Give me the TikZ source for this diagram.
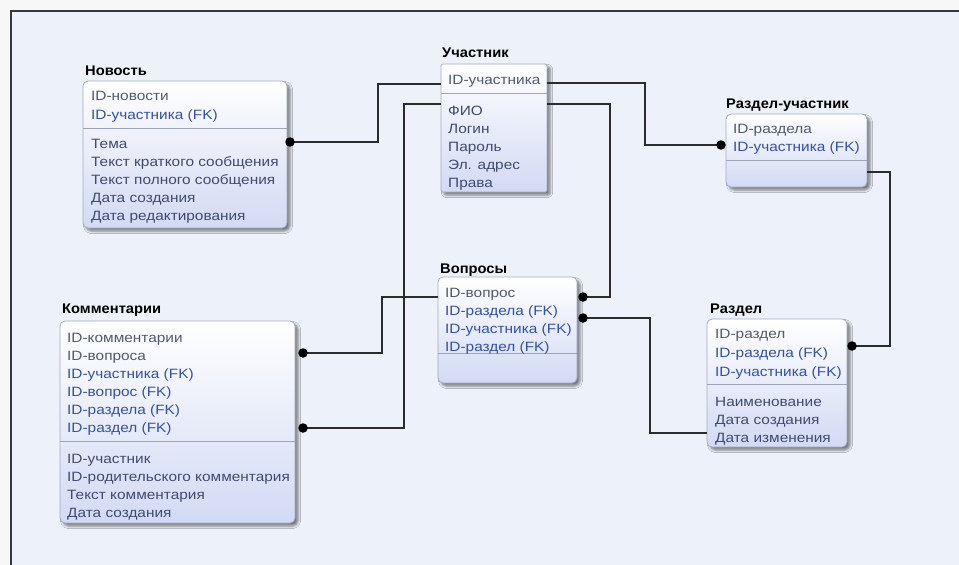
\documentclass[tikz,border=0pt]{standalone}
\usepackage{fontspec}
\setmainfont{Liberation Sans}
\newfontfamily\rowfont[FakeStretch=1.14]{Liberation Sans}
\newfontfamily\headfont[FakeStretch=1.05]{Liberation Sans}
\usetikzlibrary{shadows.blur}

\definecolor{outercol}{HTML}{F7F7F7}
\definecolor{panelcol}{HTML}{EDF2FA}
\definecolor{framecol}{HTML}{383838}
\definecolor{boxedge}{HTML}{A3ABBC}
\definecolor{boxlow}{HTML}{D2DAF4}
\definecolor{sepcol}{HTML}{9DA5B6}
\definecolor{keytxt}{HTML}{525A72}
\definecolor{fktxt}{HTML}{3152A8}
\definecolor{attrtxt}{HTML}{3F4B70}
\definecolor{linkcol}{HTML}{2C2C2C}

\tikzset{
  entity/.style={draw=boxedge, line width=0.8pt, rounded corners=5pt,
    top color=white, bottom color=boxlow, inner sep=0pt, outer sep=0pt,
    anchor=north west,
    blur shadow={shadow xshift=3pt, shadow yshift=-3pt,
      shadow blur radius=2.5pt, shadow opacity=50}},
  sep/.style={draw=sepcol, line width=0.8pt},
  head/.style={font=\headfont\bfseries\fontsize{14}{16}\selectfont,
    text=black, inner sep=0pt, anchor=base west},
  field/.style={font=\rowfont\fontsize{13.5}{16}\selectfont, inner sep=0pt,
    anchor=base west},
  pk/.style={field, text=keytxt},
  fk/.style={field, text=fktxt},
  attr/.style={field, text=attrtxt},
  link/.style={draw=linkcol, line width=1.3pt},
  dot/.style={circle, fill=black, inner sep=0pt, minimum size=9.5pt}
}

% box of an entity: options, name, left, top, right, bottom
\newcommand\entbox[6][]{%
  \node[entity, minimum width={(#5-#3)*1pt}, minimum height={(#6-#4)*1pt}, #1]
    (#2) at (#3,#4) {};}
% divider between key part and attribute part
\newcommand\entsep[2]{\draw[sep] (#1.west |- 0,#2) -- (#1.east |- 0,#2);}
% one row: style, name, x, centre y, text
\newcommand\fld[5]{\node[#1] (#2) at (#3,#4+5) {#5};}

\begin{document}
\begin{tikzpicture}[x=1pt, y=-1pt]
  \useasboundingbox (0,0) rectangle (959,565);
  \fill[outercol] (0,0) rectangle (959,565);
  \fill[panelcol] (10,10) rectangle (959,565);
  \draw[framecol, line width=1.6pt] (10.8,565) -- (10.8,10.8) -- (959,10.8);

  % ---- entity boxes ----
  \entbox{news}{83}{81}{287}{228}
  \entbox[rounded corners=1.5pt]{user}{441}{64}{547}{192}
  \entbox{ru}{726}{114}{867}{187}
  \entbox{quest}{438}{277}{577}{383}
  \entbox{comm}{60}{321}{295}{523}
  \entbox{sect}{707}{319}{847}{447}

  \entsep{news}{128}
  \entsep{user}{93}
  \entsep{ru}{160}
  \entsep{quest}{353}
  \entsep{comm}{441}
  \entsep{sect}{384}

  % ---- titles ----
  \node[head] (tnews) at (85,75) {Новость};
  \node[head] (tuser) at (442,57) {Участник};
  \node[head] (tru) at (726,108) {Раздел-участник};
  \node[head] (tquest) at (440,273) {Вопросы};
  \node[head] (tcomm) at (62,313) {Комментарии};
  \node[head] (tsect) at (710,313) {Раздел};

  % ---- Новость ----
  \fld{pk}{n1}{91}{95}{ID-новости}
  \fld{fk}{n2}{91}{114}{ID-участника (FK)}
  \fld{attr}{n3}{91}{143}{Тема}
  \fld{attr}{n4}{91}{161}{Текст краткого сообщения}
  \fld{attr}{n5}{91}{179}{Текст полного сообщения}
  \fld{attr}{n6}{91}{197}{Дата создания}
  \fld{attr}{n7}{91}{215}{Дата редактирования}

  % ---- Участник ----
  \fld{pk}{u1}{448}{79}{ID-участника}
  \fld{attr}{u2}{448}{110}{ФИО}
  \fld{attr}{u3}{448}{128}{Логин}
  \fld{attr}{u4}{448}{146}{Пароль}
  \fld{attr}{u5}{448}{164}{Эл. адрес}
  \fld{attr}{u6}{448}{182}{Права}

  % ---- Раздел-участник ----
  \fld{pk}{r1}{733}{128}{ID-раздела}
  \fld{fk}{r2}{733}{146}{ID-участника (FK)}

  % ---- Вопросы ----
  \fld{pk}{q1}{445}{292}{ID-вопрос}
  \fld{fk}{q2}{445}{310}{ID-раздела (FK)}
  \fld{fk}{q3}{445}{328}{ID-участника (FK)}
  \fld{fk}{q4}{445}{346}{ID-раздел (FK)}

  % ---- Комментарии ----
  \fld{pk}{c1}{67}{337}{ID-комментарии}
  \fld{pk}{c2}{67}{355}{ID-вопроса}
  \fld{fk}{c3}{67}{373}{ID-участника (FK)}
  \fld{fk}{c4}{67}{391}{ID-вопрос (FK)}
  \fld{fk}{c5}{67}{409}{ID-раздела (FK)}
  \fld{fk}{c6}{67}{427}{ID-раздел (FK)}
  \fld{attr}{c7}{67}{458}{ID-участник}
  \fld{attr}{c8}{67}{476}{ID-родительского комментария}
  \fld{attr}{c9}{67}{494}{Текст комментария}
  \fld{attr}{c10}{67}{512}{Дата создания}

  % ---- Раздел ----
  \fld{pk}{s1}{715}{333}{ID-раздел}
  \fld{fk}{s2}{715}{352}{ID-раздела (FK)}
  \fld{fk}{s3}{715}{371}{ID-участника (FK)}
  \fld{attr}{s4}{715}{401}{Наименование}
  \fld{attr}{s5}{715}{419}{Дата создания}
  \fld{attr}{s6}{715}{437}{Дата изменения}

  % ---- relationship ends ----
  \coordinate (newsdot) at (290,142);
  \coordinate (rudot) at (721,145);
  \coordinate (qdota) at (583,297);
  \coordinate (qdotb) at (583,318);
  \coordinate (commdota) at (303,353);
  \coordinate (commdotb) at (303,428);
  \coordinate (sectdot) at (852,346);

  % ---- relationships ----
  \draw[link] (newsdot) -- (378,142) |- (user.west |- 0,84);
  \draw[link] (user.east |- 0,83) -- (645,83) |- (rudot);
  \draw[link] (user.west |- 0,104) -- (404,104) |- (commdotb);
  \draw[link] (user.east |- 0,104) -- (610,104) |- (qdota);
  \draw[link] (quest.west |- 0,297) -- (382,297) |- (commdota);
  \draw[link] (qdotb) -- (650,318) |- (sect.west |- 0,433);
  \draw[link] (ru.east |- 0,172) -- (890,172) |- (sectdot);

  \node[dot] (d1) at (newsdot) {};
  \node[dot] (d2) at (rudot) {};
  \node[dot] (d3) at (qdota) {};
  \node[dot] (d4) at (qdotb) {};
  \node[dot] (d5) at (commdota) {};
  \node[dot] (d6) at (commdotb) {};
  \node[dot] (d7) at (sectdot) {};
\end{tikzpicture}
\end{document}
